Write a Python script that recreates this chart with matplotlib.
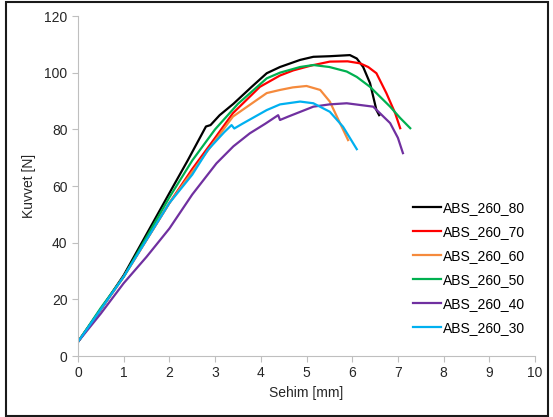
import matplotlib.pyplot as plt
from matplotlib.patches import Rectangle

plt.rcParams['font.family'] = ['Liberation Sans', 'DejaVu Sans']

# veriler (grafikten okunan yaklasik degerler)
x_80 = [0, 0.5, 1, 1.5, 2, 2.4, 2.8, 2.9, 3.1, 3.4, 3.8, 4.13, 4.42, 4.86, 5.15, 5.5, 5.95, 6.1, 6.24, 6.39, 6.53, 6.59]
y_80 = [5, 16.5, 28.5, 43, 57.5, 69, 81, 81.5, 85, 89, 95, 99.8, 102, 104.5, 105.6, 105.8, 106.2, 105, 102, 96.3, 86.8, 85]

x_70 = [0, 0.5, 1, 1.5, 2, 2.5, 3, 3.39, 3.98, 4.42, 4.71, 5.1, 5.51, 5.9, 6.17, 6.35, 6.53, 6.75, 6.94, 7.05]
y_70 = [5, 16.5, 28, 41, 54, 66, 77, 85.7, 95, 99, 100.8, 102.5, 103.9, 104, 103.3, 102, 99.8, 92.7, 85.7, 80.4]

x_60 = [0, 0.5, 1, 1.5, 2, 2.5, 3, 3.39, 4.13, 4.42, 4.7, 5.0, 5.3, 5.51, 5.7, 5.91]
y_60 = [5, 16.5, 28, 41, 54, 65, 76, 84.5, 92.8, 93.9, 94.8, 95.3, 93.9, 89.8, 83.3, 76.2]

x_50 = [0, 0.5, 1, 1.5, 2, 2.5, 3, 3.5, 4.13, 4.42, 4.86, 5.15, 5.5, 5.88, 6.1, 6.39, 6.83, 7.05, 7.27]
y_50 = [5, 17, 28, 42, 56, 69, 80, 89, 98, 100, 102, 102.7, 102, 100.4, 98.5, 95, 88, 84, 80.4]

x_40 = [0, 0.5, 1, 1.5, 2, 2.5, 3.03, 3.4, 3.76, 4.1, 4.38, 4.42, 4.6, 5.15, 5.5, 5.88, 6.46, 6.83, 7.0, 7.11]
y_40 = [5, 15, 25.7, 35, 45, 57, 68, 74, 78.6, 82, 85, 83.3, 84.5, 88, 88.8, 89.2, 88, 82.2, 77, 71.6]

x_30 = [0, 0.5, 1, 1.5, 2, 2.5, 2.84, 3.2, 3.36, 3.42, 3.6, 4.13, 4.42, 4.86, 5.15, 5.51, 5.8, 6.1]
y_30 = [5, 16.5, 28, 41, 54, 64, 72.7, 79, 81.5, 80.3, 82, 86.8, 88.8, 89.8, 89.2, 86.2, 80.9, 73]

etiketler = ['ABS_260_80', 'ABS_260_70', 'ABS_260_60', 'ABS_260_50', 'ABS_260_40', 'ABS_260_30']
renkler = ['#000000', '#ff0000', '#f58a3c', '#00b050', '#7030a0', '#00b0f0']
seriler = [(x_80, y_80), (x_70, y_70), (x_60, y_60), (x_50, y_50), (x_40, y_40), (x_30, y_30)]

fig = plt.figure(figsize=(5.53, 4.17), dpi=100)
ax = fig.add_axes([78 / 553, 61 / 417, 457 / 553, 340 / 417])

for (xs, ys), lab, c in zip(seriler, etiketler, renkler):
    ax.plot(xs, ys, color=c, lw=1.6, label=lab, solid_joinstyle='round')

ax.set_xlim(0, 10)
ax.set_ylim(0, 120)
ax.set_xticks(range(0, 11))
ax.set_yticks(range(0, 121, 20))
for s in ['top', 'right']:
    ax.spines[s].set_visible(False)
for s in ['left', 'bottom']:
    ax.spines[s].set_color('#bfbfbf')
ax.tick_params(direction='out', length=4, color='#bfbfbf', labelsize=10, labelcolor='#262626')
ax.set_xlabel('Sehim [mm]', fontsize=10, color='#262626', labelpad=4)
ax.set_ylabel('Kuvvet [N]', fontsize=10, color='#262626', labelpad=6)

ax.legend(loc='upper left', bbox_to_anchor=(413 / 553, 1 - 201 / 417),
          bbox_transform=fig.transFigure, frameon=False, fontsize=10,
          handlelength=2.0, handletextpad=0.15, labelspacing=0.72,
          borderpad=0, borderaxespad=0)

# dis cerceve
fig.patches.append(Rectangle((6 / 553, 1 / 417), 542 / 553, 414 / 417,
                             transform=fig.transFigure, fill=False,
                             edgecolor='#1a1a1a', lw=1.5))

fig.savefig('out.png', dpi=100)
